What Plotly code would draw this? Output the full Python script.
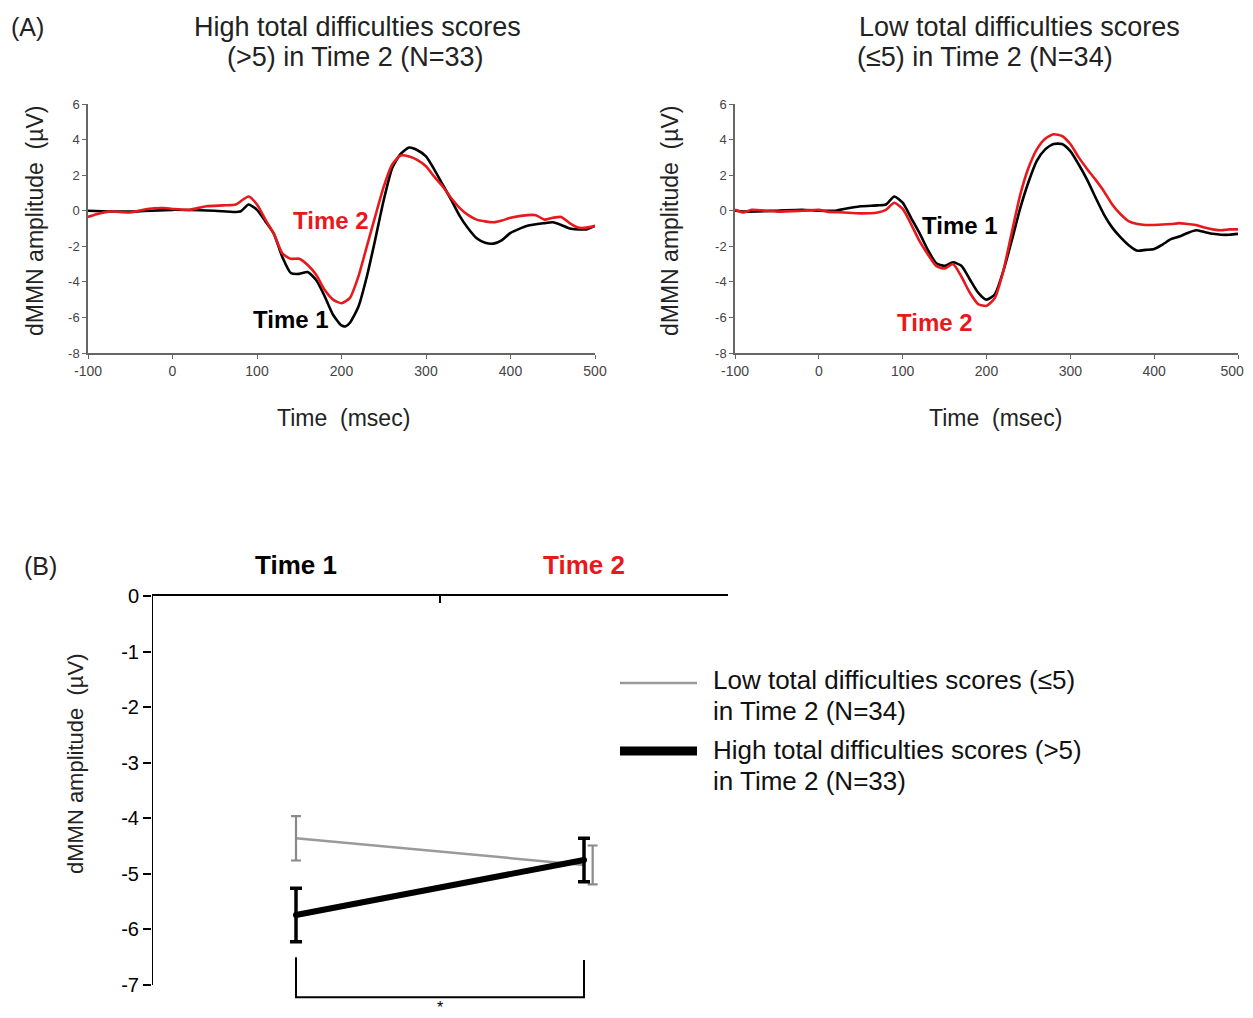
import plotly.graph_objects as go

# ---------------- Panel A data ----------------
t_hi_t1 = [-100, -50, 0, 50, 80, 90, 100, 110, 120, 130, 140, 150, 160, 170, 180, 190, 200, 205, 210, 220, 230,
           240, 250, 260, 270, 280, 290, 300, 310, 320, 330, 340, 350, 360, 370, 380, 390, 400, 420, 440,
           450, 460, 470, 480, 490, 500]
hi_t1 = [0.0, -0.05, 0.05, 0.0, -0.05, 0.35, 0.05, -0.6, -1.3, -2.6, -3.5, -3.55, -3.45, -3.9, -4.8, -5.85,
         -6.45, -6.5, -6.3, -5.4, -3.7, -1.6, 0.6, 2.4, 3.2, 3.55, 3.4, 3.05, 2.3, 1.45, 0.6, -0.3, -1.0, -1.55,
         -1.8, -1.85, -1.65, -1.25, -0.85, -0.7, -0.65, -0.8, -1.0, -1.05, -1.05, -0.85]

t_hi_t2 = [-100, -90, -75, -50, -30, -10, 0, 20, 40, 60, 75, 90, 100, 110, 120, 130, 140, 150, 160, 170, 180,
           190, 200, 210, 220, 230, 240, 250, 260, 270, 280, 290, 300, 310, 320, 330, 340, 350, 360, 370, 380,
           390, 400, 420, 430, 440, 450, 460, 470, 480, 490, 500]
hi_t2 = [-0.35, -0.2, -0.05, -0.1, 0.1, 0.15, 0.1, 0.05, 0.25, 0.3, 0.35, 0.8, 0.35, -0.5, -1.3, -2.4, -2.7,
         -2.7, -3.05, -3.6, -4.45, -5.0, -5.2, -4.9, -3.7, -2.0, -0.3, 1.35, 2.6, 3.1, 3.05, 2.85, 2.5, 1.9,
         1.35, 0.7, 0.15, -0.25, -0.5, -0.6, -0.65, -0.55, -0.4, -0.25, -0.25, -0.5, -0.4, -0.35, -0.7, -0.95,
         -0.95, -0.85]

t_lo_t1 = [-100, -90, -50, -20, 0, 20, 30, 50, 70, 80, 90, 100, 110, 120, 130, 140, 150, 160, 170, 180, 190,
           200, 210, 220, 230, 240, 250, 260, 270, 280, 290, 300, 310, 320, 330, 340, 350, 360, 370, 380, 390,
           400, 410, 420, 430, 440, 450, 460, 470, 480, 490, 500]
lo_t1 = [0.0, -0.05, 0.0, 0.05, 0.0, 0.0, 0.1, 0.25, 0.3, 0.35, 0.8, 0.45, -0.4, -1.25, -2.2, -2.95, -3.1,
         -2.9, -3.1, -3.85, -4.6, -5.0, -4.7, -3.4, -1.7, 0.1, 1.6, 2.8, 3.45, 3.75, 3.75, 3.35, 2.6, 1.75,
         0.75, -0.2, -0.95, -1.5, -1.95, -2.25, -2.2, -2.15, -1.9, -1.6, -1.45, -1.25, -1.1, -1.2, -1.3, -1.35,
         -1.35, -1.3]

t_lo_t2 = [-100, -90, -80, -50, -20, 0, 10, 30, 50, 70, 80, 90, 100, 110, 120, 130, 140, 150, 160, 170, 180,
           190, 200, 210, 220, 230, 240, 250, 260, 270, 280, 290, 300, 310, 320, 330, 340, 350, 360, 370, 380,
           390, 400, 420, 430, 440, 450, 460, 470, 480, 490, 500]
lo_t2 = [0.05, -0.1, 0.05, -0.05, 0.0, 0.05, -0.05, -0.1, -0.15, -0.1, 0.05, 0.45, 0.1, -0.75, -1.7, -2.45,
         -3.1, -3.25, -3.0, -3.7, -4.6, -5.25, -5.35, -4.9, -3.4, -1.25, 0.85, 2.4, 3.45, 4.05, 4.3, 4.2, 3.75,
         3.0, 2.35, 1.75, 1.1, 0.35, -0.2, -0.6, -0.75, -0.8, -0.8, -0.75, -0.7, -0.75, -0.8, -0.95, -1.05,
         -1.1, -1.05, -1.05]

x_ticks_a = [-100, 0, 100, 200, 300, 400, 500]
y_ticks_a = [-8, -6, -4, -2, 0, 2, 4, 6]

# ---------------- Panel B data ----------------
times_b = ["Time 1", "Time 2"]
low_mean = [-4.36, -4.84]
low_err = [0.40, 0.35]
high_mean = [-5.74, -4.75]
high_err = [0.48, 0.39]
y_ticks_b = [0, -1, -2, -3, -4, -5, -6, -7]

FONT = "Arial, Liberation Sans, sans-serif"
OFF = 8  # page body margin
W, H = 1253 - OFF, 1018 - OFF
RED = "#e8191c"


def px(x):
    return (x - OFF) / W


def py(y):
    return 1 - (y - OFF) / H


def hy(vals):
    return [str(v) for v in vals]


# right panel: pad the last label so it stays inside the window edge
x_text_right = hy(x_ticks_a)
x_text_right[-1] = x_text_right[-1] + "\u00a0\u00a0\u00a0"

# panel B vertical scale: 0 at page y 596, -7 at 985
B_TOP, B_M7, B_BOT = 596, 985, 1010
b_unit = (B_M7 - B_TOP) / 7.0
b_range_min = -(B_BOT - B_TOP) / b_unit

fig = go.Figure()

line_w = 2.6
spl = dict(shape="spline", smoothing=0.6)
fig.add_trace(go.Scatter(x=t_hi_t1, y=hi_t1, mode="lines", line=dict(color="black", width=line_w, **spl),
                         xaxis="x", yaxis="y", showlegend=False))
fig.add_trace(go.Scatter(x=t_hi_t2, y=hi_t2, mode="lines", line=dict(color=RED, width=line_w, **spl),
                         xaxis="x", yaxis="y", showlegend=False))
fig.add_trace(go.Scatter(x=t_lo_t1, y=lo_t1, mode="lines", line=dict(color="black", width=line_w, **spl),
                         xaxis="x2", yaxis="y2", showlegend=False))
fig.add_trace(go.Scatter(x=t_lo_t2, y=lo_t2, mode="lines", line=dict(color=RED, width=line_w, **spl),
                         xaxis="x2", yaxis="y2", showlegend=False))

# Panel B: positions of categories on numeric axis [0, 2]
pos_b = [i + 0.5 for i in range(len(times_b))]
gray_err_offset = [0.0, 0.03]
pos_gray_err = [p + o for p, o in zip(pos_b, gray_err_offset)]

fig.add_trace(go.Scatter(x=pos_b, y=low_mean, mode="lines", line=dict(color="#9a9a9a", width=2.5),
                         xaxis="x3", yaxis="y3", showlegend=False))
fig.add_trace(go.Scatter(x=pos_gray_err, y=low_mean, mode="markers", marker=dict(size=1, color="rgba(0,0,0,0)"),
                         error_y=dict(type="data", array=low_err, color="#8a8a8a", thickness=2.2, width=5),
                         xaxis="x3", yaxis="y3", showlegend=False))
fig.add_trace(go.Scatter(x=pos_b, y=high_mean, mode="lines+markers", line=dict(color="black", width=6),
                         marker=dict(size=6, color="black"),
                         error_y=dict(type="data", array=high_err, color="black", thickness=3.5, width=6),
                         xaxis="x3", yaxis="y3", showlegend=False))

# significance bracket
fig.add_trace(go.Scatter(x=[pos_b[0], pos_b[0], pos_b[1], pos_b[1]], y=[-6.5, -7.22, -7.22, -6.55], mode="lines",
                         line=dict(color="black", width=2), xaxis="x3", yaxis="y3", showlegend=False))

axA = dict(showgrid=False, zeroline=False, showline=True, linecolor="#666", linewidth=1.5, automargin=False,
           ticks="outside", ticklen=4, tickcolor="#666", ticklabeloverflow="allow",
           tickfont=dict(family=FONT, size=14, color="#444"))

fig.update_layout(
    width=W, height=H,
    margin=dict(l=0, r=0, t=0, b=0),
    paper_bgcolor="white", plot_bgcolor="white",
    font=dict(family=FONT),
    xaxis=dict(domain=[px(88), px(595)], range=[-100, 500], tickvals=x_ticks_a, ticktext=hy(x_ticks_a),
               anchor="y", **axA),
    yaxis=dict(domain=[py(353), py(104)], range=[-8, 6], tickvals=y_ticks_a, ticktext=hy(y_ticks_a), anchor="x",
               **{**axA, "tickfont": dict(family=FONT, size=13, color="#444")}),
    xaxis2=dict(domain=[px(735), px(1238)], range=[-100, 500], tickvals=x_ticks_a, ticktext=x_text_right,
                anchor="y2", **axA),
    yaxis2=dict(domain=[py(353), py(104)], range=[-8, 6], tickvals=y_ticks_a, ticktext=hy(y_ticks_a), anchor="x2",
                **{**axA, "tickfont": dict(family=FONT, size=13, color="#444")}),
    xaxis3=dict(domain=[px(152), px(728)], range=[0, 2], side="top", anchor="y3", showgrid=False, zeroline=False,
                showline=True, linecolor="black", linewidth=2, ticks="inside", ticklen=7, tickwidth=2,
                tickcolor="black", tickvals=[1, 2], showticklabels=False, automargin=False),
    yaxis3=dict(domain=[max(py(B_BOT), 0), py(B_TOP)], range=[b_range_min, 0], anchor="x3", showgrid=False,
                zeroline=False, showline=False, ticks="outside", ticklen=8, tickwidth=2, tickcolor="black",
                automargin=False, tickvals=y_ticks_b, ticktext=hy(y_ticks_b),
                tickfont=dict(family=FONT, size=20, color="black")),
)

# left axis line for panel B (ends at -7)
fig.add_shape(type="line", xref="x3", yref="y3", x0=0, x1=0, y0=0, y1=y_ticks_b[-1],
              line=dict(color="black", width=2))

ann = []
tfont = dict(family=FONT, size=25, color="#222")
ann.append(dict(text="(A)", x=px(28), y=py(27), font=tfont))
ann.append(dict(text="(B)", x=px(40), y=py(566), font=tfont))
title_font = dict(family=FONT, size=27, color="#222")
ann.append(dict(text="High total difficulties scores", x=px(357), y=py(27), font=title_font))
ann.append(dict(text="(>5) in Time 2 (N=33)", x=px(355), y=py(57), font=title_font))
ann.append(dict(text="Low total difficulties scores", x=px(1019), y=py(27), font=title_font))
ann.append(dict(text="(≤5) in Time 2 (N=34)", x=px(985), y=py(57), font=title_font))
for xx in (35, 670):
    ann.append(dict(text="dMMN amplitude  (µV)", x=px(xx), y=py(221), textangle=-90,
                    font=dict(family=FONT, size=23, color="#222")))
for xx in (343, 995):
    ann.append(dict(text="Time  (msec)", x=px(xx), y=py(418), font=dict(family=FONT, size=23, color="#222")))

bold = lambda c: dict(family=FONT, size=24, color=c)
ann.append(dict(text="<b>Time 2</b>", x=188, y=-0.55, xref="x", yref="y", font=bold(RED)))
ann.append(dict(text="<b>Time 1</b>", x=140, y=-6.1, xref="x", yref="y", font=bold("black")))
ann.append(dict(text="<b>Time 1</b>", x=168, y=-0.85, xref="x2", yref="y2", font=bold("black")))
ann.append(dict(text="<b>Time 2</b>", x=139, y=-6.3, xref="x2", yref="y2", font=bold(RED)))

# panel B category labels
ann.append(dict(text="<b>" + times_b[0] + "</b>", x=pos_b[0], y=py(565), xref="x3", yref="paper",
                font=dict(family=FONT, size=26, color="black")))
ann.append(dict(text="<b>" + times_b[1] + "</b>", x=pos_b[1], y=py(565), xref="x3", yref="paper",
                font=dict(family=FONT, size=26, color=RED)))
ann.append(dict(text="dMMN amplitude  (µV)", x=px(75), y=py(764), textangle=-90,
                font=dict(family=FONT, size=22, color="#222")))
ann.append(dict(text="*", x=1.0, y=py(998), xref="x3", yref="paper", yanchor="top", borderpad=0,
                font=dict(family=FONT, size=16, color="black")))

# legend (manual)
lfont = dict(family=FONT, size=26, color="#111")
for txt, yy in (("Low total difficulties scores (≤5)", 680), ("in Time 2 (N=34)", 711),
                ("High total difficulties scores (>5)", 750), ("in Time 2 (N=33)", 781)):
    ann.append(dict(text=txt, x=px(711), y=py(yy), xanchor="left", font=lfont))
fig.add_shape(type="line", xref="paper", yref="paper", x0=px(620), x1=px(697), y0=py(683), y1=py(683),
              line=dict(color="#9a9a9a", width=2.5))
fig.add_shape(type="line", xref="paper", yref="paper", x0=px(620), x1=px(697), y0=py(751), y1=py(751),
              line=dict(color="black", width=9))

for a in ann:
    a.setdefault("xref", "paper")
    a.setdefault("yref", "paper")
    a.setdefault("xanchor", "center")
    a.setdefault("yanchor", "middle")
    a.setdefault("showarrow", False)
    fig.add_annotation(**a)

fig.write_html("out.html")
